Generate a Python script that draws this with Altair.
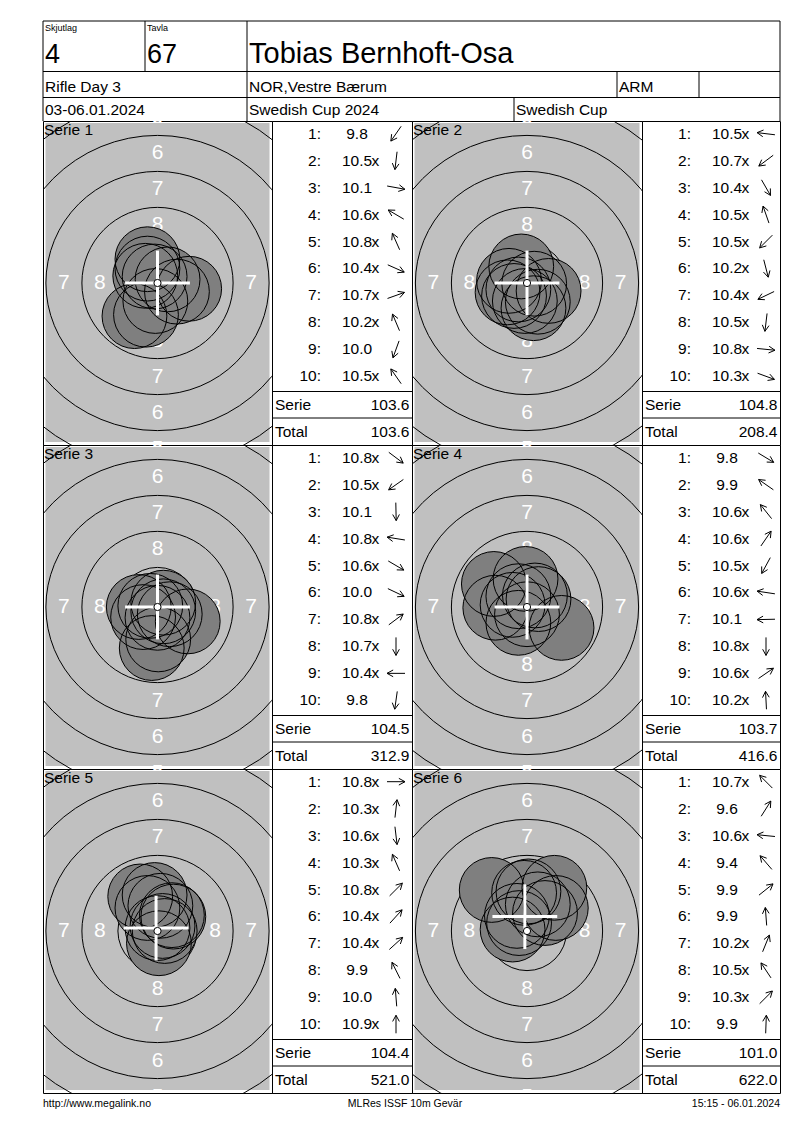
import altair as alt
import pandas as pd

FONT = "Liberation Sans"
PX_PER_MM = 14.4          # print scale of the target picture
ROW_H = 324               # height of one series row
W = 737                   # width of the whole form
COLS = [229, 140, 230, 138]
SHOT1_Y = 12.7            # pixel centre of shot row 1 in the list
ROW_STEP = 26.956         # pixels between shot rows

# --- header / footer texts ---
relay = "4"
target_no = "67"
shooter = "Tobias Bernhoft-Osa"
event = "Rifle Day 3"
club = "NOR,Vestre Bærum"
shooter_class = "ARM"
dates = "03-06.01.2024"
competition = "Swedish Cup 2024"
cup = "Swedish Cup"
footer_left = "http://www.megalink.no"
footer_mid = "MLRes ISSF 10m Gevär"
footer_right = "15:15 - 06.01.2024"

# --- shot values per series ---
scores = [
    [9.8, 10.5, 10.1, 10.6, 10.8, 10.4, 10.7, 10.2, 10.0, 10.5],
    [10.5, 10.7, 10.4, 10.5, 10.5, 10.2, 10.4, 10.5, 10.8, 10.3],
    [10.8, 10.5, 10.1, 10.8, 10.6, 10.0, 10.8, 10.7, 10.4, 9.8],
    [9.8, 9.9, 10.6, 10.6, 10.5, 10.6, 10.1, 10.8, 10.6, 10.2],
    [10.8, 10.3, 10.6, 10.3, 10.8, 10.4, 10.4, 9.9, 10.0, 10.9],
    [10.7, 9.6, 10.6, 9.4, 9.9, 9.9, 10.2, 10.5, 10.3, 9.9],
]
inner_ten = [
    [0, 1, 0, 1, 1, 1, 1, 1, 0, 1],
    [1, 1, 1, 1, 1, 1, 1, 1, 1, 1],
    [1, 1, 0, 1, 1, 0, 1, 1, 1, 0],
    [0, 0, 1, 1, 1, 1, 0, 1, 1, 1],
    [1, 1, 1, 1, 1, 1, 1, 0, 0, 1],
    [1, 0, 1, 0, 0, 0, 1, 1, 1, 0],
]
# shot centres in mm from the target centre (x right, y up)
shot_x = [
    [-1.6, -0.15, 2.2, -0.85, -0.2, 1.35, 0.7, -0.7, -0.8, -0.7],
    [-1.25, -0.6, 0.75, -0.4, -0.9, 0.45, -1.35, -0.15, 0.5, 1.5],
    [0.4, -1.0, 0.05, -0.5, 0.85, 2.1, 0.4, 0.0, -1.3, -0.4],
    [2.4, -2.3, -0.6, 0.55, -0.6, -1.0, -2.2, 0.0, 0.8, -0.1],
    [0.5, 0.2, 0.1, -0.7, 0.35, 1.0, 1.1, -1.2, -0.2, 0.0],
    [-0.55, 1.9, -1.0, -2.45, 2.0, -0.2, 0.75, -0.7, 1.25, 0.1],
]
shot_y = [
    [-2.3, -1.25, -0.4, 0.5, 0.45, -0.6, 0.25, 1.65, -2.2, 1.0],
    [0.15, -0.45, -1.3, 1.15, -0.9, -1.75, -0.65, -1.25, -0.05, -0.55],
    [-0.3, -0.7, -2.25, 0.08, -0.5, -1.0, 0.3, -0.75, 0.0, -2.85],
    [-1.45, 1.6, 0.75, 0.8, -1.1, 0.15, -0.05, -0.5, 0.55, 1.95],
    [0.0, 1.75, -0.85, 1.6, 0.35, 1.1, 1.0, 2.4, 2.5, 0.2],
    [0.55, 3.0, 0.1, 2.85, 1.6, 2.65, 1.85, 1.05, 1.25, 2.75],
]
serie_sum = [103.6, 104.8, 104.5, 103.7, 104.4, 101.0]
running_total = [103.6, 208.4, 312.9, 416.6, 521.0, 622.0]
# white cross position per series (mm)
cross_x = [0.0, 0.0, 0.0, 0.0, -0.1, -0.15]
cross_y = [0.0, 0.0, 0.0, 0.0, 0.2, 1.0]

# --- target face (10m air rifle, mm) ---
ring_value = [5, 6, 7, 8, 9]
ring_radius = [12.75, 10.25, 7.75, 5.25, 2.75]
label_value = [5, 6, 7, 8]
label_radius = [11.5, 9.0, 6.5, 4.0]
ten_dot_radius = 0.25
pellet_radius = 2.25

one_row = pd.DataFrame({"k": [0]})
SIZE = alt.Scale(type="pow", exponent=2, domain=[0, 16],
                 range=[0, 4 * (16 * PX_PER_MM) ** 2])
NO_STROKE = alt.ViewBackground(strokeOpacity=0)


def target_chart(i, w):
    half_w = w / 2 / PX_PER_MM
    half_h = ROW_H / 2 / PX_PER_MM
    xs = alt.Scale(domain=[-half_w, half_w], nice=False, zero=False)
    ys = alt.Scale(domain=[-half_h, half_h], nice=False, zero=False)

    def X(f):
        return alt.X(f, scale=xs, axis=None)

    def Y(f):
        return alt.Y(f, scale=ys, axis=None)

    def S(f):
        return alt.Size(f, scale=SIZE, legend=None)

    rows = []
    for n, r in zip(label_value, label_radius):
        rows += [{"n": n, "x": 0, "y": r}, {"n": n, "x": 0, "y": -r},
                 {"n": n, "x": -r, "y": 0}, {"n": n, "x": r, "y": 0}]
    labels_df = pd.DataFrame(rows)
    rings_df = pd.DataFrame({"ring": ring_value, "r": ring_radius, "x": 0.0, "y": 0.0})
    shots_df = pd.DataFrame({"x": shot_x[i], "y": shot_y[i], "r": pellet_radius})
    cross_df = pd.DataFrame({"x": [cross_x[i]], "y": [cross_y[i]]})
    dot_df = pd.DataFrame({"x": [0.0], "y": [0.0], "r": [ten_dot_radius]})

    bg = alt.Chart(one_row).mark_rect(color="#c0c0c0").encode(
        x=alt.value(2.5), x2=alt.value(w - 2.5), y=alt.value(2), y2=alt.value(ROW_H - 3)
    )
    labels = alt.Chart(labels_df).mark_text(
        color="white", fontSize=21, font=FONT, baseline="middle", clip=True
    ).encode(x=X("x:Q"), y=Y("y:Q"), text="n:N")
    rings = alt.Chart(rings_df).mark_point(
        shape="circle", filled=False, color="black", strokeWidth=1, opacity=1, clip=True
    ).encode(x=X("x:Q"), y=Y("y:Q"), size=S("r:Q"))
    fills = alt.Chart(shots_df).mark_circle(color="#7f7f7f", opacity=1, clip=True).encode(
        x=X("x:Q"), y=Y("y:Q"), size=S("r:Q")
    )
    outlines = alt.Chart(shots_df).mark_point(
        shape="circle", filled=False, color="black", strokeWidth=1, opacity=1, clip=True
    ).encode(x=X("x:Q"), y=Y("y:Q"), size=S("r:Q"))
    hline = alt.Chart(cross_df).transform_calculate(
        x0=f"datum.x - {pellet_radius}", x1=f"datum.x + {pellet_radius}"
    ).mark_rule(color="white", strokeWidth=3).encode(x=X("x0:Q"), x2="x1:Q", y=Y("y:Q"))
    vline = alt.Chart(cross_df).transform_calculate(
        y0=f"datum.y - {pellet_radius}", y1=f"datum.y + {pellet_radius}"
    ).mark_rule(color="white", strokeWidth=3).encode(y=Y("y0:Q"), y2="y1:Q", x=X("x:Q"))
    dot = alt.Chart(dot_df).mark_circle(
        fill="white", stroke="black", strokeWidth=1, opacity=1
    ).encode(x=X("x:Q"), y=Y("y:Q"), size=S("r:Q"))
    title = alt.Chart(one_row).mark_text(
        align="left", baseline="alphabetic", fontSize=15.5, font=FONT, color="black"
    ).encode(x=alt.value(1), y=alt.value(14), text=alt.value(f"Serie {i + 1}"))

    return alt.layer(bg, labels, rings, fills, outlines, hline, vline, dot, title).properties(
        width=w, height=ROW_H
    )


def list_chart(i, w):
    df = pd.DataFrame({
        "shot": list(range(1, 11)),
        "score": scores[i],
        "inner": inner_ten[i],
        "x": shot_x[i],
        "y": shot_y[i],
    })
    # shot number -> pixel row: a linear scale placing row 1 at SHOT1_Y
    y_lo = 1 - SHOT1_Y / ROW_STEP
    y_hi = 1 + (ROW_H - SHOT1_Y) / ROW_STEP
    ys = alt.Scale(domain=[y_hi, y_lo], nice=False, zero=False)
    xs = alt.Scale(domain=[0, w], nice=False, zero=False)
    base = alt.Chart(df).encode(y=alt.Y("shot:Q", scale=ys, axis=None))
    txt = dict(fontSize=15.5, font=FONT, baseline="middle", color="black")

    num = base.transform_calculate(lbl="datum.shot + ':'").mark_text(align="right", **txt).encode(
        x=alt.value(49), text="lbl:N")
    val = base.mark_text(align="center", **txt).encode(
        x=alt.value(85), text=alt.Text("score:Q", format=".1f"))
    xmark = base.transform_filter("datum.inner == 1").mark_text(align="left", **txt).encode(
        x=alt.value(99.5), text=alt.value("x"))

    # direction arrow: shaft of 18 px centred at x=124, two open barbs
    ax = 124
    arrows = alt.Chart(df).transform_calculate(
        th="atan2(datum.y, datum.x)",
    ).transform_calculate(
        xt=f"{ax} - 9 * cos(datum.th)", xh=f"{ax} + 9 * cos(datum.th)",
        yt=f"datum.shot + 9 * sin(datum.th) / {ROW_STEP}",
        yh=f"datum.shot - 9 * sin(datum.th) / {ROW_STEP}",
    ).transform_calculate(
        xb1="datum.xh - 7 * cos(datum.th + 0.5)",
        yb1=f"datum.yh + 7 * sin(datum.th + 0.5) / {ROW_STEP}",
        xb2="datum.xh - 7 * cos(datum.th - 0.5)",
        yb2=f"datum.yh + 7 * sin(datum.th - 0.5) / {ROW_STEP}",
    )
    shaft = arrows.mark_rule(color="black", strokeWidth=1).encode(
        x=alt.X("xt:Q", scale=xs, axis=None), x2="xh:Q",
        y=alt.Y("yt:Q", scale=ys, axis=None), y2="yh:Q")
    barb1 = arrows.mark_rule(color="black", strokeWidth=1).encode(
        x=alt.X("xh:Q", scale=xs, axis=None), x2="xb1:Q",
        y=alt.Y("yh:Q", scale=ys, axis=None), y2="yb1:Q")
    barb2 = arrows.mark_rule(color="black", strokeWidth=1).encode(
        x=alt.X("xh:Q", scale=xs, axis=None), x2="xb2:Q",
        y=alt.Y("yh:Q", scale=ys, axis=None), y2="yb2:Q")

    sep1 = alt.Chart(one_row).mark_rule(color="black").encode(
        x=alt.value(0), x2=alt.value(w), y=alt.value(270.5))
    sep2 = alt.Chart(one_row).mark_rule(color="black").encode(
        x=alt.value(0), x2=alt.value(w), y=alt.value(297))
    s_lbl = alt.Chart(one_row).mark_text(align="left", **txt).encode(
        x=alt.value(3), y=alt.value(284), text=alt.value("Serie"))
    s_val = alt.Chart(one_row).mark_text(align="right", **txt).encode(
        x=alt.value(w - 2.5), y=alt.value(284), text=alt.value(f"{serie_sum[i]:.1f}"))
    t_lbl = alt.Chart(one_row).mark_text(align="left", **txt).encode(
        x=alt.value(3), y=alt.value(310.5), text=alt.value("Total"))
    t_val = alt.Chart(one_row).mark_text(align="right", **txt).encode(
        x=alt.value(w - 2.5), y=alt.value(310.5), text=alt.value(f"{running_total[i]:.1f}"))

    return alt.layer(num, val, xmark, shaft, barb1, barb2,
                     sep1, sep2, s_lbl, s_val, t_lbl, t_val).properties(width=w, height=ROW_H)


def rule(x1, y1, x2, y2):
    return alt.Chart(one_row).mark_rule(color="black", strokeWidth=1).encode(
        x=alt.value(x1), x2=alt.value(x2), y=alt.value(y1), y2=alt.value(y2))


def label(s, x, y, size, align="left"):
    return alt.Chart(one_row).mark_text(
        align=align, baseline="alphabetic", fontSize=size, font=FONT, color="black"
    ).encode(x=alt.value(x), y=alt.value(y), text=alt.value(s))


def empty(w, h):
    return alt.Chart(one_row).mark_text().encode(text=alt.value("")).properties(
        width=w, height=h, view=NO_STROKE)


# header drawn in the first grid cell, free to run across the whole width
header = alt.layer(
    rule(0, 0, W, 0), rule(0, 0, 0, 100), rule(W, 0, W, 100),
    rule(0, 50.5, W, 50.5), rule(0, 76.5, W, 76.5),
    rule(102, 0, 102, 50.5), rule(204, 0, 204, 100),
    rule(574, 50.5, 574, 76.5), rule(656, 50.5, 656, 76.5), rule(471, 76.5, 471, 100),
    label("Skjutlag", 2, 10, 9), label("Tavla", 104, 10, 9),
    label(relay, 2, 42, 27), label(target_no, 104, 42, 27), label(shooter, 206, 42, 29),
    label(event, 2, 71, 15.5), label(club, 206, 71, 15.5), label(shooter_class, 576, 71, 15.5),
    label(dates, 2, 94, 15.5), label(competition, 206, 94, 15.5), label(cup, 473, 94, 15.5),
).properties(width=COLS[0], height=100, view=NO_STROKE)

footer = alt.layer(
    label(footer_left, 0, 14, 10.5),
    label(footer_mid, 362, 14, 10.5, "center"),
    label(footer_right, W, 14, 10.5, "right"),
).properties(width=COLS[0], height=22, view=NO_STROKE)

cells = [header] + [empty(w, 100) for w in COLS[1:]]
for r in range(3):
    a, b = 2 * r, 2 * r + 1
    cells += [target_chart(a, COLS[0]), list_chart(a, COLS[1]),
              target_chart(b, COLS[2]), list_chart(b, COLS[3])]
cells += [footer] + [empty(w, 22) for w in COLS[1:]]

chart = alt.concat(*cells, columns=4, spacing=0, bounds="flush").properties(
    padding={"left": 34, "top": 12, "right": 5, "bottom": 5}
).configure_view(stroke="black", strokeWidth=1)

chart.save("out.html", embed_options={"renderer": "svg", "actions": False})
